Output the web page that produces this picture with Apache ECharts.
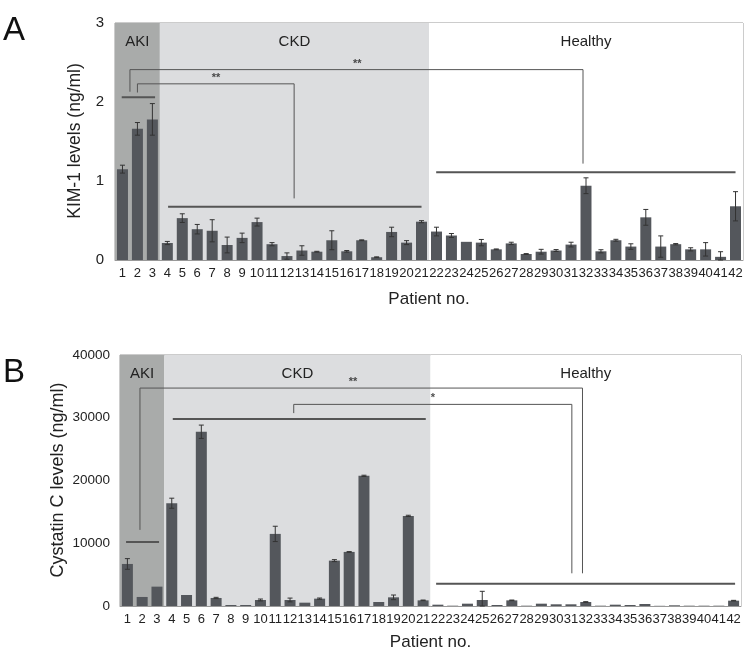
<!DOCTYPE html>
<html><head><meta charset="utf-8">
<script src="https://cdn.jsdelivr.net/npm/echarts@6/dist/echarts.min.js"></script>
<style>html,body{margin:0;padding:0;background:#fff}#c{width:747px;height:654px}</style>
</head><body><div id="c"></div>
<script>
const patients = ['1','2','3','4','5','6','7','8','9','10','11','12','13','14','15','16','17','18','19','20','21','22','23','24','25','26','27','28','29','30','31','32','33','34','35','36','37','38','39','40','41','42'];
const kim1 = [1.15,1.66,1.78,0.215,0.53,0.39,0.37,0.19,0.28,0.48,0.20,0.05,0.12,0.105,0.25,0.11,0.25,0.035,0.355,0.22,0.485,
  0.36,0.31,0.23,0.22,0.135,0.21,0.076,0.105,0.12,0.195,0.94,0.11,0.25,0.17,0.54,0.17,0.20,0.135,0.135,0.04,0.68];
const kim1Err = [0.05,0.08,0.20,0.02,0.055,0.06,0.14,0.10,0.06,0.05,0.02,0.04,0.06,0.005,0.12,0.01,0.005,0.005,0.06,0.025,0.013,
  0.055,0.025,0,0.04,0.005,0.015,0.005,0.03,0.012,0.03,0.10,0.02,0.012,0.035,0.10,0.135,0.008,0.02,0.085,0.065,0.185];
const cysC = [6700,1440,3085,16380,1755,27770,1280,160,160,960,11490,960,530,1170,7230,8620,20740,640,1380,14360,900,
  210,50,370,960,160,900,50,370,270,270,640,50,210,160,320,30,110,50,50,50,850];
const cysCErr = [850,0,0,800,0,1060,100,0,0,150,1220,300,0,100,160,50,100,0,370,100,50,
  0,0,0,1380,0,50,0,0,0,0,50,0,0,0,0,0,0,0,0,0,50];
const yTicksA = [0,1,2,3];
const yTicksB = [0,10000,20000,30000,40000];
const groups = [
  {name:'AKI', from:0.5, to:3.5, color:'#a9abaa'},
  {name:'CKD', from:3.5, to:21.5, color:'#dcdddf'},
  {name:'Healthy', from:21.5, to:42.5, color:'#ffffff'}
];
// brackets: [patient position, value] polylines
const bracketsA = [
  [[1.5,2.13],[1.5,2.41],[31.8,2.41],[31.8,1.22]],
  [[2.0,2.12],[2.0,2.23],[12.48,2.23],[12.48,0.78]]
];
const groupLinesA = [
  [[0.95,2.06],[3.18,2.06]],
  [[4.05,0.675],[21.0,0.675]],
  [[21.98,1.11],[42.0,1.11]]
];
const starsA = [[16.7,2.48,'**'],[7.26,2.30,'**']];
const bracketsB = [
  [[1.85,12130],[1.85,34730],[31.78,34730],[31.78,5210]],
  [[12.25,30740],[12.25,32130],[31.06,32130],[31.06,5210]]
];
const groupLinesB = [
  [[0.91,10210],[3.14,10210]],
  [[4.07,29790],[21.18,29790]],
  [[21.88,3560],[42.1,3560]]
];
const starsB = [[16.26,35750,'**'],[21.66,33100,'*']];

const FONT = 'Liberation Sans, Arial, Helvetica, sans-serif';
const chart = echarts.init(document.getElementById('c'), null, {renderer:'canvas'});

function errSeries(vals, errs, xi, yi) {
  return {
    type:'custom', xAxisIndex:xi, yAxisIndex:yi, z:4, silent:true,
    data: vals.map((v,i)=>[i, v, errs[i]]),
    encode:{x:0,y:1},
    renderItem:function(params, api){
      const i = api.value(0), v = api.value(1), e = api.value(2);
      if (!e) return null;
      const t = api.coord([i, v+e]), b = api.coord([i, Math.max(0, v-e)]);
      const st = {stroke:'#333', lineWidth:1};
      return {type:'group', children:[
        {type:'line', shape:{x1:t[0],y1:t[1],x2:b[0],y2:b[1]}, style:st},
        {type:'line', shape:{x1:t[0]-2.5,y1:t[1],x2:t[0]+2.5,y2:t[1]}, style:st},
        {type:'line', shape:{x1:b[0]-2.5,y1:b[1],x2:b[0]+2.5,y2:b[1]}, style:st}
      ]};
    }
  };
}
function lineSeries(pts, xi, yi, w, color) {
  return {type:'line', xAxisIndex:xi, yAxisIndex:yi, data:pts, symbol:'none', silent:true, z:5,
    lineStyle:{color:color, width:w}, animation:false};
}
function areaSeries(xi, yi) {
  return {type:'line', xAxisIndex:xi, yAxisIndex:yi, data:[], z:1, silent:true,
    markArea:{silent:true, data: groups.map(g=>[
      {xAxis:g.from, itemStyle:{color:g.color}, label:{show:true, position:'insideTop', distance:11, formatter:g.name, color:'#222', fontSize:15, fontFamily:FONT}},
      {xAxis:g.to}
    ])}
  };
}
function starSeries(pts, xi, yi) {
  return {type:'scatter', xAxisIndex:xi, yAxisIndex:yi, symbolSize:1, z:6, silent:true,
    itemStyle:{color:'rgba(0,0,0,0)'},
    data: pts.map(p=>({value:[p[0],p[1]], label:{show:true, position:'inside', formatter:p[2], color:'#222', fontSize:11, fontFamily:FONT, fontWeight:'bold'}}))};
}

const series = [];
series.push(areaSeries(2,0), areaSeries(3,1));
series.push({type:'bar', xAxisIndex:0, yAxisIndex:0, data:kim1, barWidth:11, z:2, itemStyle:{color:'#54575c'}, silent:true});
series.push({type:'bar', xAxisIndex:1, yAxisIndex:1, data:cysC, barWidth:11, z:2, itemStyle:{color:'#54575c'}, silent:true});
series.push(errSeries(kim1, kim1Err, 0, 0), errSeries(cysC, cysCErr, 1, 1));
bracketsA.forEach(b=>series.push(lineSeries(b,2,0,1,'#555')));
groupLinesA.forEach(b=>series.push(lineSeries(b,2,0,2,'#555')));
bracketsB.forEach(b=>series.push(lineSeries(b,3,1,1,'#555')));
groupLinesB.forEach(b=>series.push(lineSeries(b,3,1,2,'#555')));
series.push(starSeries(starsA,2,0), starSeries(starsB,3,1));

function catAxis(gi, nameGap) {
  return {type:'category', gridIndex:gi, data:patients, boundaryGap:true,
    axisLine:{lineStyle:{color:'#999'}}, axisTick:{show:false},
    axisLabel:{interval:0, color:'#222', fontSize:13, margin:7, fontFamily:FONT},
    name:'Patient no.', nameLocation:'middle', nameGap:nameGap,
    nameTextStyle:{color:'#222', fontSize:17, fontFamily:FONT}};
}
function valX(gi) {
  return {type:'value', gridIndex:gi, min:0.5, max:42.5, show:false};
}
chart.setOption({
  animation:false,
  backgroundColor:'#fff',
  textStyle:{fontFamily:FONT},
  grid:[
    {left:115, top:23, right:4, height:237, show:true, borderColor:'#999', borderWidth:1, backgroundColor:'#fff'},
    {left:120, top:355, right:6, height:251, show:true, borderColor:'#999', borderWidth:1, backgroundColor:'#fff'}
  ],
  xAxis:[catAxis(0,31), catAxis(1,28), valX(0), valX(1)],
  yAxis:[
    {type:'value', gridIndex:0, min:yTicksA[0], max:yTicksA[yTicksA.length-1], interval:1, splitLine:{show:false},
     axisLine:{show:false}, axisTick:{show:false},
     axisLabel:{color:'#222', fontSize:15, margin:11, fontFamily:FONT}},
    {type:'value', gridIndex:1, min:yTicksB[0], max:yTicksB[yTicksB.length-1], interval:10000, splitLine:{show:false},
     axisLine:{show:false}, axisTick:{show:false},
     axisLabel:{color:'#222', fontSize:13.5, margin:10, fontFamily:FONT, formatter:v=>String(v)}}
  ],
  graphic:[
    {type:'text', left:3, top:14, style:{text:'A', fontSize:33, fill:'#111', fontFamily:FONT}},
    {type:'text', left:3, top:356, style:{text:'B', fontSize:33, fill:'#111', fontFamily:FONT}},
    {type:'text', x:75, y:141, rotation:Math.PI/2, style:{text:'KIM-1 levels (ng/ml)', fontSize:17.5, fill:'#222', fontFamily:FONT, textAlign:'center', textVerticalAlign:'middle'}},
    {type:'text', x:58, y:480, rotation:Math.PI/2, style:{text:'Cystatin C levels (ng/ml)', fontSize:18, fill:'#222', fontFamily:FONT, textAlign:'center', textVerticalAlign:'middle'}}
  ],
  series:series
});
</script></body></html>
